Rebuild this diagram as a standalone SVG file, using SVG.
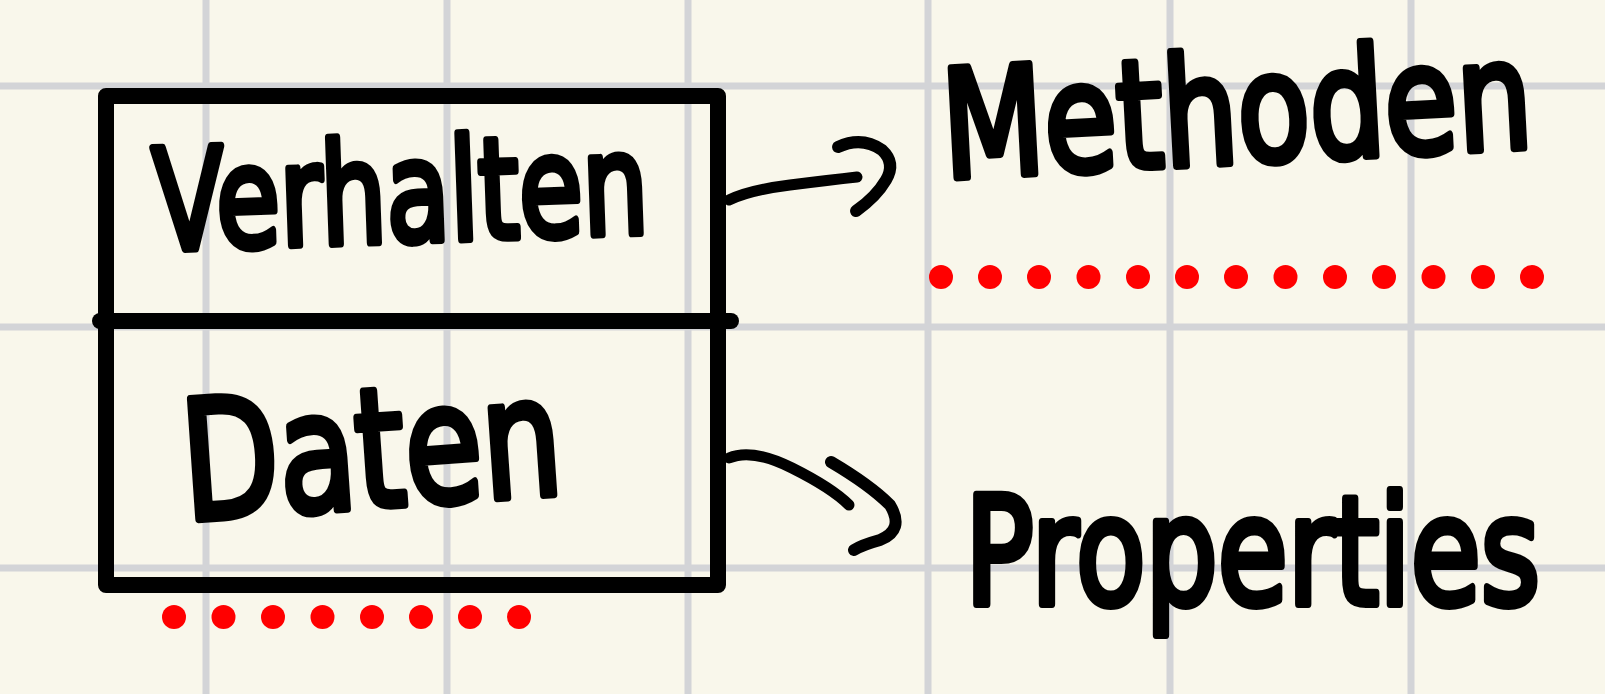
<svg xmlns="http://www.w3.org/2000/svg" width="1605" height="694" viewBox="0 0 1605 694">
<style>
.grid line{stroke:#d3d4d7;stroke-width:7}
.ink{fill:none;stroke:#000;stroke-linecap:round;stroke-linejoin:round}
.hand{font-family:"DejaVu Sans","Liberation Sans",sans-serif;fill:#000;stroke:#000;stroke-width:8;stroke-linejoin:round}
.dot{fill:#ff0000}
</style>
<rect width="1605" height="694" fill="#f9f7eb"/>
<g class="grid" id="grid">
<line x1="206" y1="0" x2="206" y2="694"/>
<line x1="447" y1="0" x2="447" y2="694"/>
<line x1="688" y1="0" x2="688" y2="694"/>
<line x1="928" y1="0" x2="928" y2="694"/>
<line x1="1170" y1="0" x2="1170" y2="694"/>
<line x1="1411" y1="0" x2="1411" y2="694"/>
<line x1="0" y1="86" x2="1605" y2="86"/>
<line x1="0" y1="327" x2="1605" y2="327"/>
<line x1="0" y1="568" x2="1605" y2="568"/>
</g>
<g id="box">
<path class="ink" stroke-width="16" d="M106,96 H718 V585 H106 Z"/>
<path class="ink" stroke-width="16" d="M100,321 H731"/>
</g>
<g id="verhalten">
<text class="hand" x="155" y="250" font-size="140" textLength="495" lengthAdjust="spacingAndGlyphs" transform="rotate(-2 155 250)">Verhalten</text>
</g>
<g id="daten">
<text class="hand" x="186" y="520" font-size="165" textLength="380" lengthAdjust="spacingAndGlyphs" transform="rotate(-4 186 520)">Daten</text>
</g>
<g id="methoden">
<text class="hand" x="945" y="178" font-size="150" textLength="590" lengthAdjust="spacingAndGlyphs" transform="rotate(-3 945 178)">Methoden</text>
</g>
<g id="properties">
<text class="hand" x="965" y="604" font-size="150" textLength="575" lengthAdjust="spacingAndGlyphs">Properties</text>
</g>
<g id="connectors">
<path class="ink" stroke-width="11" d="M729,200 Q750,190 790,185 T857,177"/>
<path class="ink" stroke-width="12" d="M838,147 Q862,136 882,150 Q896,163 886,180 Q876,197 856,211"/>
<path class="ink" stroke-width="11" d="M729,458 Q752,448 792,468 T849,505"/>
<path class="ink" stroke-width="12" d="M831,462 Q870,485 890,505 Q905,530 880,540 Q862,545 854,550"/>
</g>
<g id="dots-bottom">
<circle class="dot" cx="174" cy="617" r="12"/>
<circle class="dot" cx="223.5" cy="617" r="12"/>
<circle class="dot" cx="273" cy="617" r="12"/>
<circle class="dot" cx="322.5" cy="617" r="12"/>
<circle class="dot" cx="372" cy="617" r="12"/>
<circle class="dot" cx="421" cy="617" r="12"/>
<circle class="dot" cx="470" cy="617" r="12"/>
<circle class="dot" cx="519" cy="617" r="12"/>
</g>
<g id="dots-top">
<circle class="dot" cx="941" cy="277" r="12"/>
<circle class="dot" cx="990" cy="277" r="12"/>
<circle class="dot" cx="1039" cy="277" r="12"/>
<circle class="dot" cx="1088.5" cy="277" r="12"/>
<circle class="dot" cx="1138" cy="277" r="12"/>
<circle class="dot" cx="1187" cy="277" r="12"/>
<circle class="dot" cx="1236" cy="277" r="12"/>
<circle class="dot" cx="1285.5" cy="277" r="12"/>
<circle class="dot" cx="1335" cy="277" r="12"/>
<circle class="dot" cx="1384" cy="277" r="12"/>
<circle class="dot" cx="1433.5" cy="277" r="12"/>
<circle class="dot" cx="1483" cy="277" r="12"/>
<circle class="dot" cx="1532" cy="277" r="12"/>
</g>
</svg>
